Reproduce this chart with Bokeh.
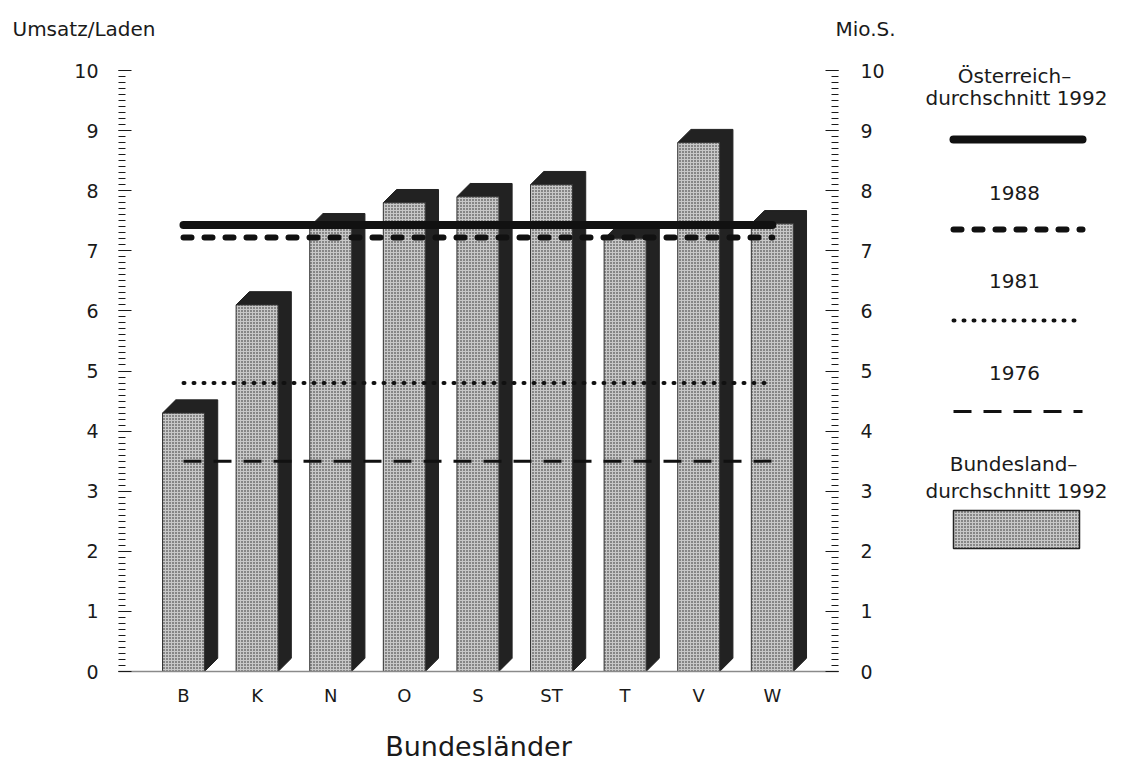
from bokeh.plotting import figure
from bokeh.models import Range1d, LinearAxis, FixedTicker, SingleIntervalTicker
from bokeh.embed import file_html
from bokeh.resources import INLINE
from bokeh.core.properties import value

# ---------------- data ----------------
categories = ["B", "K", "N", "O", "S", "ST", "T", "V", "W"]
bundesland_1992 = [4.3, 6.1, 7.4, 7.8, 7.9, 8.1, 7.2, 8.8, 7.45]
oesterreich_1992 = 7.43
avg_1988 = 7.22
avg_1981 = 4.8
avg_1976 = 3.5
y_tick_interval = 1
legend_titles = ["Österreich–", "durchschnitt 1992", "1988", "1981", "1976",
                 "Bundesland–", "durchschnitt 1992"]

FONT = "DejaVu Sans"
TXT = "#1a1a1a"
DARK = "#222222"
LINE = "#111111"

W, H = 1125, 767
# layout: pixel position of category 0 / value 0, and pixels per unit
X0, XU = 183.0, 73.6
Y0, YU = 671.0, 60.1


def sx(px):  # canvas px -> data x
    return (px - X0) / XU


def sy(py):  # canvas px -> data y
    return (Y0 - py) / YU


idx = list(range(len(categories)))
half = 0.285          # half front width (category units)
dx, dy = 0.18, 0.22   # 3D depth offsets

p = figure(width=W, height=H, x_range=Range1d(sx(0), sx(W)), y_range=Range1d(sy(H), sy(0)),
           output_backend="svg", toolbar_location=None, min_border=0,
           x_axis_location=None, y_axis_location=None)
p.grid.visible = False
p.outline_line_color = None
p.background_fill_color = "white"

left_x, right_x = sx(118), sx(838)


def style_y(ax, standoff):
    ax.axis_line_color = None
    ax.major_tick_in = 13
    ax.major_tick_out = 0
    ax.minor_tick_in = 7
    ax.minor_tick_out = 0
    ax.major_tick_line_color = TXT
    ax.minor_tick_line_color = TXT
    ax.major_label_standoff = standoff
    ax.major_label_text_font = FONT
    ax.major_label_text_font_size = "19px"
    ax.major_label_text_color = TXT
    ax.bounds = (0, 10)


ya = LinearAxis(ticker=SingleIntervalTicker(interval=y_tick_interval, num_minor_ticks=10),
                fixed_location=left_x)
style_y(ya, 20)
p.add_layout(ya, "left")

ra = LinearAxis(ticker=SingleIntervalTicker(interval=y_tick_interval, num_minor_ticks=10),
                fixed_location=right_x)
style_y(ra, 22)
p.add_layout(ra, "right")

xa = LinearAxis(ticker=FixedTicker(ticks=idx), fixed_location=0)
xa.major_label_overrides = {i: c for i, c in zip(idx, categories)}
xa.bounds = (left_x, right_x)
xa.major_tick_line_color = None
xa.minor_tick_line_color = None
xa.axis_line_color = "#8a8a8a"
xa.axis_line_width = 1.5
xa.major_label_standoff = 7
xa.major_label_text_font = FONT
xa.major_label_text_font_size = "18px"
xa.major_label_text_color = TXT
xa.axis_label = "Bundesländer"
xa.axis_label_standoff = 22
xa.axis_label_text_font = FONT
xa.axis_label_text_font_size = "27px"
xa.axis_label_text_font_style = "normal"
xa.axis_label_text_color = TXT
p.add_layout(xa, "below")

# 3D bars: dark side + top
dxs, dys = [], []
for i, v in zip(idx, bundesland_1992):
    l, r = i - half, i + half
    dxs.append([r, r + dx, r + dx, l + dx, l, r])
    dys.append([0, dy, v + dy, v + dy, v, v])
p.patches(dxs, dys, fill_color=DARK, line_color=DARK, line_width=1)

# front faces (stippled)
p.quad(left=[i - half for i in idx], right=[i + half for i in idx], bottom=0, top=bundesland_1992,
       fill_color="#c8c8c8", hatch_pattern="dot", hatch_color="#222222", hatch_scale=3,
       hatch_weight=1, line_color="#333333", line_width=1)

# average lines
x_line = [idx[0], idx[-1]]
p.line(x_line, [oesterreich_1992] * 2, line_width=8, line_color=LINE, line_cap="round")
p.line(x_line, [avg_1988] * 2, line_width=6, line_color=LINE, line_cap="round", line_dash="8 13")
p.line(x_line, [avg_1981] * 2, line_width=4, line_color=LINE, line_cap="round", line_dash="1 9")
p.line(x_line, [avg_1976] * 2, line_width=3, line_color=LINE, line_dash="18 12")

# axis titles at top
p.text(x=[sx(12), sx(835)], y=[sy(28), sy(28)], text=["Umsatz/Laden", "Mio.S."],
       text_font=value(FONT), text_font_size="20px", text_color=TXT,
       text_align="left", text_baseline="middle")

# ---------------- legend ----------------
p.text(x=[sx(1014), sx(1016), sx(1014), sx(1014), sx(1014), sx(1013), sx(1016)],
       y=[sy(75), sy(97), sy(192), sy(280), sy(372), sy(463), sy(490)],
       text=legend_titles,
       text_font=value(FONT), text_font_size="20px", text_color=TXT,
       text_align="center", text_baseline="middle")
lx = [sx(953), sx(1082)]
p.line(lx, [sy(139)] * 2, line_width=8, line_color=LINE, line_cap="round")
p.line(lx, [sy(229)] * 2, line_width=6, line_color=LINE, line_cap="round", line_dash="8 13")
p.line(lx, [sy(320)] * 2, line_width=4, line_color=LINE, line_cap="round", line_dash="1 9")
p.line(lx, [sy(411)] * 2, line_width=3, line_color=LINE, line_dash="18 12")
p.quad(left=[sx(953)], right=[sx(1079)], top=[sy(510)], bottom=[sy(548)],
       fill_color="#c8c8c8", hatch_pattern="dot", hatch_color="#222222", hatch_scale=3,
       hatch_weight=1, line_color="#222222", line_width=1.5)

open("out.html", "w").write(file_html(p, INLINE))
